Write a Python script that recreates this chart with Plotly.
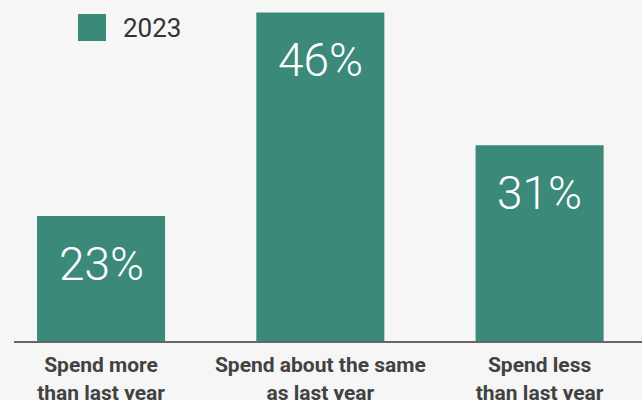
import plotly.graph_objects as go

categories = ["Spend more<br>than last year", "Spend about the same<br>as last year", "Spend less<br>than last year"]
values = [23, 46, 31]
labels = ["23%", "46%", "31%"]
series_name = "2023"

BAR = "#3b8979"
BG = "#f6f6f6"

fig = go.Figure()
fig.add_trace(go.Bar(
    x=categories, y=values, marker=dict(color=BAR, line=dict(width=0)),
    name=series_name, showlegend=False, hoverinfo="skip",
))

for c, v, t in zip(categories, values, labels):
    fig.add_annotation(x=c, y=v, text=t, showarrow=False, yanchor="middle",
                       yshift=-48, font=dict(family="Roboto", size=46, color="white", weight=300))

# legend drawn as a swatch + text
fig.add_shape(type="rect", xref="paper", yref="paper", x0=(78-14)/628, x1=(106-14)/628,
              y0=1-(41/341), y1=1-(14/341), fillcolor=BAR, line=dict(width=0))
fig.add_annotation(xref="paper", yref="paper", x=(121-14)/628, y=1-(27.5/341), text=series_name,
                   showarrow=False, xanchor="left", yanchor="middle",
                   font=dict(family="Roboto", size=26, color="#333333"))

fig.update_layout(
    width=642, height=400,
    margin=dict(l=14, r=0, t=0, b=59),
    paper_bgcolor=BG, plot_bgcolor=BG,
    bargap=0.416,
    xaxis=dict(range=[-0.397, 2.467], showline=True, linecolor="#666666", linewidth=2,
               showgrid=False, ticks="outside", ticklen=4, tickcolor="rgba(0,0,0,0)",
               automargin=False,
               tickfont=dict(family="Roboto", size=21, color="#424242", weight="bold")),
    yaxis=dict(range=[8.9, 47.4], visible=False, showgrid=False, zeroline=False),
)

fig.write_html("out.html")
